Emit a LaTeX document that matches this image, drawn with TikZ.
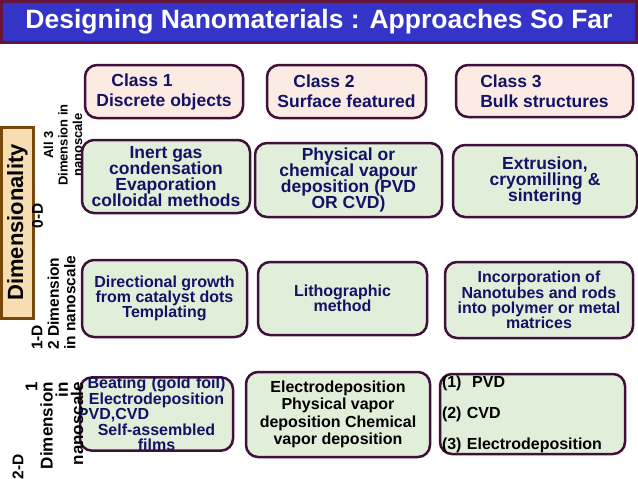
\documentclass[tikz,border=0pt]{standalone}
\usepackage{fontspec}
\setmainfont{Liberation Sans}
\usetikzlibrary{positioning}

\definecolor{titleblue}{RGB}{52,52,200}
\definecolor{titleline}{RGB}{102,20,60}
\definecolor{classfill}{RGB}{252,235,227}
\definecolor{methodfill}{RGB}{225,238,217}
\definecolor{boxline}{RGB}{62,16,58}
\definecolor{dimfill}{RGB}{246,222,178}
\definecolor{dimline}{RGB}{120,72,10}
\definecolor{navy}{RGB}{18,18,102}

\begin{document}
\begin{tikzpicture}[
    x=1pt, y=-1pt,
    every node/.style={font=\bfseries},
    classbox/.style={
        draw=boxline, fill=classfill, line width=2.5pt, rounded corners=12pt,
        align=left, inner sep=0pt, text=navy,
        font=\fontsize{17.5}{20}\selectfont\bfseries
    },
    methodbox/.style={
        draw=boxline, fill=methodfill, line width=2.5pt, rounded corners=12pt,
        align=center, inner sep=0pt
    },
    zerotext/.style={text=navy, font={\fontsize{17.5}{16}\selectfont\bfseries\lineskiplimit-20pt}},
    onetext/.style={text=navy, font={\fontsize{16}{15.3}\selectfont\bfseries\lineskiplimit-20pt}},
    twotext/.style={text=black, font={\fontsize{16}{17.3}\selectfont\bfseries\lineskiplimit-20pt}},
    dimlabel/.style={rotate=90, inner sep=0pt, text=black},
]

% =====================================================================
%  TITLE BAR
% =====================================================================
\useasboundingbox (0,0) rectangle (638,479);
\node[draw=titleline, fill=titleblue, line width=3.5pt, inner sep=0pt,
      minimum width=635pt, minimum height=41pt, text=white,
      font=\fontsize{26.5}{30}\selectfont\bfseries] (title) at (319,22)
    {Designing Nanomaterials : Approaches So Far};

% =====================================================================
%  CLASS HEADERS
% =====================================================================
\node[classbox, minimum width=158pt, minimum height=53pt] (class1) at (164,91.5)
    {\hspace*{15pt}Class 1\\Discrete objects};
\node[classbox, minimum width=159pt, minimum height=53pt] (class2) at (346.5,91.5)
    {\hspace*{16pt}Class 2\\Surface featured};
\node[classbox, minimum width=177pt, minimum height=52pt] (class3) at (544.5,91)
    {Class 3\\Bulk structures};

% =====================================================================
%  DIMENSIONALITY LABELS (left column)
% =====================================================================
\node[dimlabel, draw=dimline, fill=dimfill, line width=3pt,
      minimum width=191pt, minimum height=32pt,
      font=\fontsize{22}{24}\selectfont\bfseries] (dimbox) at (17.5,222.5)
    {Dimensionality};
\node[dimlabel, font=\fontsize{15.5}{16}\selectfont\bfseries] (zerod) at (37.5,216) {0-D};
\node[dimlabel, align=center, font={\fontsize{13}{14.5}\selectfont\bfseries\lineskiplimit-20pt}] (zerolab) at (63,145)
    {All 3\\Dimension in\\nanoscale};
\node[dimlabel, align=left, anchor=west,
      font=\fontsize{15.5}{16.5}\selectfont\bfseries] (onelab) at (53.5,350)
    {1-D\\2 Dimension\\in nanoscale};

% =====================================================================
%  0-D ROW
% =====================================================================
\node[methodbox, zerotext, minimum width=168pt, minimum height=73pt] (zero1) at (166,176.5)
    {Inert gas\\condensation\\Evaporation\\colloidal methods};
\node[methodbox, zerotext, minimum width=187pt, minimum height=74pt] (zero2) at (348.5,180)
    {Physical or\\chemical vapour\\deposition (PVD\\OR CVD)};
\node[methodbox, zerotext, minimum width=184pt, minimum height=72pt] (zero3) at (545,181)
    {Extrusion,\\cryomilling \&\\sintering};

% =====================================================================
%  1-D ROW
% =====================================================================
\node[methodbox, onetext, minimum width=165pt, minimum height=77pt] (one1) at (164.5,298.5)
    {Directional growth\\from catalyst dots\\Templating};
\node[methodbox, onetext, minimum width=169pt, minimum height=73pt] (one2) at (342.5,298.5)
    {Lithographic\\method};
\node[methodbox, onetext, minimum width=188pt, minimum height=76pt] (one3) at (539,300)
    {Incorporation of\\Nanotubes and rods\\into polymer or metal\\matrices};

% =====================================================================
%  2-D ROW
% =====================================================================
\node[methodbox, onetext, text width=138pt, minimum width=153pt, minimum height=72pt,
      font={\fontsize{16}{15.4}\selectfont\bfseries\lineskiplimit-20pt}] (two1) at (156.5,414)
    {Beating (gold foil)\\Electrodeposition\\\hspace*{-9.5pt}PVD,CVD\hfill\null\\Self-assembled\\films};
\node[methodbox, twotext, minimum width=184pt, minimum height=85pt] (two2) at (338,414.5)
    {Electrodeposition\\Physical vapor\\deposition Chemical\\vapor deposition};
\node[methodbox, twotext, align=left, text width=181pt, inner xsep=1pt,
      minimum width=185pt, minimum height=80pt,
      font=\fontsize{16}{16}\selectfont\bfseries] (two3) at (532.5,414)
    {(1)\ \ PVD\\[15pt](2) CVD\\[15pt](3) Electrodeposition};

% 2-D labels sit over the first box
\node[dimlabel, align=right, anchor=east,
      font={\fontsize{17}{15.3}\selectfont\bfseries\lineskiplimit-20pt}] (twolab) at (54.5,382)
    {1\\Dimension\\in\\nanoscale};
\node[dimlabel, font=\fontsize{15.5}{16}\selectfont\bfseries] (twod) at (18,467) {2-D};

\end{tikzpicture}
\end{document}
